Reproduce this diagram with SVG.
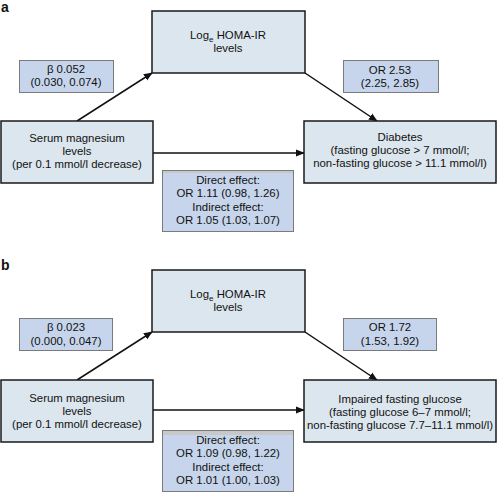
<svg xmlns="http://www.w3.org/2000/svg" width="497" height="492" viewBox="0 0 497 492">
<defs>
<style>
text{font-family:"Liberation Sans",Arial,sans-serif;font-size:11.4px;fill:#111;text-anchor:middle}
.node{fill:#dce6ee;stroke:#1a1a1a;stroke-width:1.5}
.lab{fill:#c6d5eb;stroke:#7a7a7a;stroke-width:1}
.strip{fill:#c8c8c8}
.conn{stroke:#111;stroke-width:1.5;fill:none;marker-end:url(#ah)}
.pl{font-size:14px;font-weight:bold;text-anchor:start}
</style>
<marker id="ah" viewBox="0 0 10 10" refX="9" refY="5" markerWidth="6" markerHeight="6" orient="auto" markerUnits="strokeWidth">
<path d="M0,1 L10,5 L0,9 z" fill="#111"/>
</marker>
</defs>
<rect width="497" height="492" fill="#fff"/>

<text class="pl" x="1" y="12">a</text>
<text class="pl" x="1" y="270">b</text>

<g id="connectors">
<line class="conn" x1="77" y1="121" x2="152" y2="73"/>
<line class="conn" x1="305" y1="73" x2="377" y2="121"/>
<line class="conn" x1="153" y1="153" x2="304" y2="153"/>
<line class="conn" x1="77" y1="380" x2="152" y2="332"/>
<line class="conn" x1="305" y1="332" x2="377" y2="380"/>
<line class="conn" x1="153" y1="410" x2="304" y2="410"/>
</g>

<g id="a-homa">
<rect class="node" x="152" y="11" width="153" height="62"/>
<text x="228" y="39">Log<tspan font-size="8" dy="3">e</tspan><tspan dy="-3"> HOMA-IR</tspan></text>
<text x="228" y="52">levels</text>
</g>
<g id="a-beta">
<rect class="lab" x="19.5" y="60.5" width="94" height="32"/>
<text x="66" y="73">β 0.052</text>
<text x="66" y="86">(0.030, 0.074)</text>
</g>
<g id="a-serum">
<rect class="node" x="1" y="121" width="152" height="62"/>
<text x="77" y="142">Serum magnesium</text>
<text x="77" y="155">levels</text>
<text x="77" y="168">(per 0.1 mmol/l decrease)</text>
</g>
<g id="a-or">
<rect class="lab" x="343.5" y="60.5" width="95" height="32"/>
<text x="390" y="74">OR 2.53</text>
<text x="390" y="87">(2.25, 2.85)</text>
</g>
<g id="a-diabetes">
<rect class="node" x="304" y="121" width="192" height="62"/>
<text x="400" y="141">Diabetes</text>
<text x="400" y="154">(fasting glucose &gt; 7 mmol/l;</text>
<text x="400" y="167">non-fasting glucose &gt; 11.1 mmol/l)</text>
</g>
<g id="a-effects">
<rect class="lab" x="162.5" y="170.5" width="131" height="61"/>
<rect class="strip" x="163" y="171" width="130" height="2"/>
<text x="228" y="184">Direct effect:</text>
<text x="228" y="197">OR 1.11 (0.98, 1.26)</text>
<text x="228" y="211">Indirect effect:</text>
<text x="228" y="224">OR 1.05 (1.03, 1.07)</text>
</g>

<g id="b-homa">
<rect class="node" x="152" y="270" width="153" height="62"/>
<text x="228" y="298">Log<tspan font-size="8" dy="3">e</tspan><tspan dy="-3"> HOMA-IR</tspan></text>
<text x="228" y="311">levels</text>
</g>
<g id="b-beta">
<rect class="lab" x="19.5" y="318.5" width="93" height="32"/>
<text x="66" y="331">β 0.023</text>
<text x="66" y="345">(0.000, 0.047)</text>
</g>
<g id="b-serum">
<rect class="node" x="1" y="380" width="152" height="62"/>
<text x="77" y="402">Serum magnesium</text>
<text x="77" y="415">levels</text>
<text x="77" y="428">(per 0.1 mmol/l decrease)</text>
</g>
<g id="b-or">
<rect class="lab" x="343.5" y="318.5" width="93" height="32"/>
<text x="390" y="331">OR 1.72</text>
<text x="390" y="345">(1.53, 1.92)</text>
</g>
<g id="b-ifg">
<rect class="node" x="304" y="380" width="192" height="62"/>
<text x="400" y="403">Impaired fasting glucose</text>
<text x="400" y="416">(fasting glucose 6–7 mmol/l;</text>
<text x="400" y="429">non-fasting glucose 7.7–11.1 mmol/l)</text>
</g>
<g id="b-effects">
<rect class="lab" x="162.5" y="430.5" width="131" height="61"/>
<rect class="strip" x="163" y="431" width="130" height="4"/>
<text x="228" y="444">Direct effect:</text>
<text x="228" y="457">OR 1.09 (0.98, 1.22)</text>
<text x="228" y="471">Indirect effect:</text>
<text x="228" y="484">OR 1.01 (1.00, 1.03)</text>
</g>
</svg>
